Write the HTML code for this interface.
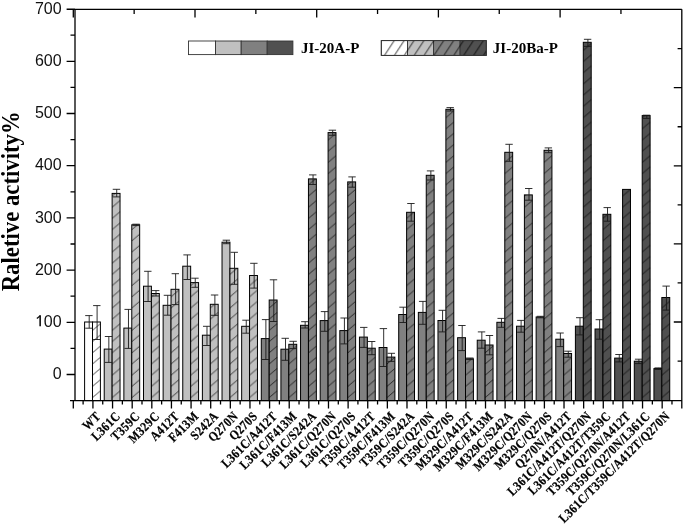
<!DOCTYPE html><html><head><meta charset="utf-8"><style>
html,body{margin:0;padding:0;background:#fff;width:685px;height:526px;overflow:hidden}
svg{display:block;will-change:transform}
.t{font-family:"Liberation Sans",sans-serif;font-size:16px;fill:#111}
.b{font-family:"Liberation Serif",serif;font-weight:bold;fill:#000}
</style></head><body>
<svg width="685" height="526" viewBox="0 0 685 526">
<rect x="84.60" y="322.00" width="7.9" height="78.60" fill="#ffffff" stroke="#000" stroke-width="1"/>
<rect x="92.50" y="322.00" width="7.9" height="78.60" fill="#ffffff"/>
<svg x="92.50" y="322.00" width="7.9" height="78.60" overflow="hidden">
<path d="M0,75.60 L7.9,68.89 M0,64.40 L7.9,57.69 M0,53.20 L7.9,46.49 M0,42.00 L7.9,35.29 M0,30.80 L7.9,24.09 M0,19.60 L7.9,12.89 M0,8.40 L7.9,1.69 M0,-2.80 L7.9,-9.51" stroke="#000" stroke-width="0.7" fill="none"/>
</svg>
<rect x="92.50" y="322.00" width="7.9" height="78.60" fill="none" stroke="#000" stroke-width="1"/>
<path d="M89.20,315.60 V328.20 M85.20,315.60 H92.60 M85.20,328.20 H92.60" stroke="#1a1a1a" stroke-width="0.9" fill="none"/>
<path d="M97.10,305.60 V339.50 M93.10,305.60 H100.50 M93.10,339.50 H100.50" stroke="#1a1a1a" stroke-width="0.9" fill="none"/>
<rect x="104.23" y="349.10" width="7.9" height="51.50" fill="#c0c0c0" stroke="#000" stroke-width="1"/>
<rect x="112.13" y="193.40" width="7.9" height="207.20" fill="#c0c0c0"/>
<svg x="112.13" y="193.40" width="7.9" height="207.20" overflow="hidden">
<path d="M0,204.20 L7.9,197.49 M0,193.00 L7.9,186.29 M0,181.80 L7.9,175.09 M0,170.60 L7.9,163.89 M0,159.40 L7.9,152.69 M0,148.20 L7.9,141.49 M0,137.00 L7.9,130.29 M0,125.80 L7.9,119.09 M0,114.60 L7.9,107.89 M0,103.40 L7.9,96.69 M0,92.20 L7.9,85.49 M0,81.00 L7.9,74.29 M0,69.80 L7.9,63.09 M0,58.60 L7.9,51.89 M0,47.40 L7.9,40.69 M0,36.20 L7.9,29.49 M0,25.00 L7.9,18.29 M0,13.80 L7.9,7.09 M0,2.60 L7.9,-4.11 M0,-8.60 L7.9,-15.31" stroke="#000" stroke-width="0.7" fill="none"/>
</svg>
<rect x="112.13" y="193.40" width="7.9" height="207.20" fill="none" stroke="#000" stroke-width="1"/>
<path d="M108.83,336.50 V362.40 M104.83,336.50 H112.23 M104.83,362.40 H112.23" stroke="#1a1a1a" stroke-width="0.9" fill="none"/>
<path d="M116.73,189.30 V196.90 M112.73,189.30 H120.13 M112.73,196.90 H120.13" stroke="#1a1a1a" stroke-width="0.9" fill="none"/>
<rect x="123.87" y="328.10" width="7.9" height="72.50" fill="#c0c0c0" stroke="#000" stroke-width="1"/>
<rect x="131.77" y="224.80" width="7.9" height="175.80" fill="#c0c0c0"/>
<svg x="131.77" y="224.80" width="7.9" height="175.80" overflow="hidden">
<path d="M0,172.80 L7.9,166.09 M0,161.60 L7.9,154.89 M0,150.40 L7.9,143.69 M0,139.20 L7.9,132.49 M0,128.00 L7.9,121.29 M0,116.80 L7.9,110.09 M0,105.60 L7.9,98.89 M0,94.40 L7.9,87.69 M0,83.20 L7.9,76.49 M0,72.00 L7.9,65.29 M0,60.80 L7.9,54.09 M0,49.60 L7.9,42.89 M0,38.40 L7.9,31.69 M0,27.20 L7.9,20.49 M0,16.00 L7.9,9.29 M0,4.80 L7.9,-1.91 M0,-6.40 L7.9,-13.11" stroke="#000" stroke-width="0.7" fill="none"/>
</svg>
<rect x="131.77" y="224.80" width="7.9" height="175.80" fill="none" stroke="#000" stroke-width="1"/>
<path d="M128.47,309.40 V348.40 M124.47,309.40 H131.87 M124.47,348.40 H131.87" stroke="#1a1a1a" stroke-width="0.9" fill="none"/>
<path d="M136.37,224.20 V225.60 M132.37,224.20 H139.77 M132.37,225.60 H139.77" stroke="#1a1a1a" stroke-width="0.9" fill="none"/>
<rect x="143.50" y="286.20" width="7.9" height="114.40" fill="#c0c0c0" stroke="#000" stroke-width="1"/>
<rect x="151.40" y="293.50" width="7.9" height="107.10" fill="#c0c0c0"/>
<svg x="151.40" y="293.50" width="7.9" height="107.10" overflow="hidden">
<path d="M0,104.10 L7.9,97.39 M0,92.90 L7.9,86.19 M0,81.70 L7.9,74.99 M0,70.50 L7.9,63.79 M0,59.30 L7.9,52.59 M0,48.10 L7.9,41.39 M0,36.90 L7.9,30.19 M0,25.70 L7.9,18.99 M0,14.50 L7.9,7.79 M0,3.30 L7.9,-3.41 M0,-7.90 L7.9,-14.61" stroke="#000" stroke-width="0.7" fill="none"/>
</svg>
<rect x="151.40" y="293.50" width="7.9" height="107.10" fill="none" stroke="#000" stroke-width="1"/>
<path d="M148.10,271.30 V301.50 M144.10,271.30 H151.50 M144.10,301.50 H151.50" stroke="#1a1a1a" stroke-width="0.9" fill="none"/>
<path d="M156.00,290.60 V296.00 M152.00,290.60 H159.40 M152.00,296.00 H159.40" stroke="#1a1a1a" stroke-width="0.9" fill="none"/>
<rect x="163.13" y="305.30" width="7.9" height="95.30" fill="#c0c0c0" stroke="#000" stroke-width="1"/>
<rect x="171.03" y="289.30" width="7.9" height="111.30" fill="#c0c0c0"/>
<svg x="171.03" y="289.30" width="7.9" height="111.30" overflow="hidden">
<path d="M0,108.30 L7.9,101.59 M0,97.10 L7.9,90.39 M0,85.90 L7.9,79.19 M0,74.70 L7.9,67.98 M0,63.50 L7.9,56.78 M0,52.30 L7.9,45.58 M0,41.10 L7.9,34.38 M0,29.90 L7.9,23.18 M0,18.70 L7.9,11.98 M0,7.50 L7.9,0.78 M0,-3.70 L7.9,-10.42" stroke="#000" stroke-width="0.7" fill="none"/>
</svg>
<rect x="171.03" y="289.30" width="7.9" height="111.30" fill="none" stroke="#000" stroke-width="1"/>
<path d="M167.73,295.30 V315.20 M163.73,295.30 H171.13 M163.73,315.20 H171.13" stroke="#1a1a1a" stroke-width="0.9" fill="none"/>
<path d="M175.63,273.70 V304.60 M171.63,273.70 H179.03 M171.63,304.60 H179.03" stroke="#1a1a1a" stroke-width="0.9" fill="none"/>
<rect x="182.76" y="266.20" width="7.9" height="134.40" fill="#c0c0c0" stroke="#000" stroke-width="1"/>
<rect x="190.66" y="282.60" width="7.9" height="118.00" fill="#c0c0c0"/>
<svg x="190.66" y="282.60" width="7.9" height="118.00" overflow="hidden">
<path d="M0,115.00 L7.9,108.28 M0,103.80 L7.9,97.08 M0,92.60 L7.9,85.88 M0,81.40 L7.9,74.68 M0,70.20 L7.9,63.48 M0,59.00 L7.9,52.28 M0,47.80 L7.9,41.08 M0,36.60 L7.9,29.88 M0,25.40 L7.9,18.68 M0,14.20 L7.9,7.48 M0,3.00 L7.9,-3.72 M0,-8.20 L7.9,-14.92" stroke="#000" stroke-width="0.7" fill="none"/>
</svg>
<rect x="190.66" y="282.60" width="7.9" height="118.00" fill="none" stroke="#000" stroke-width="1"/>
<path d="M187.36,254.90 V279.50 M183.36,254.90 H190.76 M183.36,279.50 H190.76" stroke="#1a1a1a" stroke-width="0.9" fill="none"/>
<path d="M195.26,278.20 V287.30 M191.26,278.20 H198.66 M191.26,287.30 H198.66" stroke="#1a1a1a" stroke-width="0.9" fill="none"/>
<rect x="202.39" y="335.20" width="7.9" height="65.40" fill="#c0c0c0" stroke="#000" stroke-width="1"/>
<rect x="210.29" y="304.30" width="7.9" height="96.30" fill="#c0c0c0"/>
<svg x="210.29" y="304.30" width="7.9" height="96.30" overflow="hidden">
<path d="M0,93.30 L7.9,86.59 M0,82.10 L7.9,75.39 M0,70.90 L7.9,64.19 M0,59.70 L7.9,52.98 M0,48.50 L7.9,41.78 M0,37.30 L7.9,30.58 M0,26.10 L7.9,19.38 M0,14.90 L7.9,8.18 M0,3.70 L7.9,-3.02 M0,-7.50 L7.9,-14.21" stroke="#000" stroke-width="0.7" fill="none"/>
</svg>
<rect x="210.29" y="304.30" width="7.9" height="96.30" fill="none" stroke="#000" stroke-width="1"/>
<path d="M206.99,326.30 V345.50 M202.99,326.30 H210.39 M202.99,345.50 H210.39" stroke="#1a1a1a" stroke-width="0.9" fill="none"/>
<path d="M214.89,295.00 V315.30 M210.89,295.00 H218.29 M210.89,315.30 H218.29" stroke="#1a1a1a" stroke-width="0.9" fill="none"/>
<rect x="222.03" y="242.20" width="7.9" height="158.40" fill="#c0c0c0" stroke="#000" stroke-width="1"/>
<rect x="229.93" y="268.30" width="7.9" height="132.30" fill="#c0c0c0"/>
<svg x="229.93" y="268.30" width="7.9" height="132.30" overflow="hidden">
<path d="M0,129.30 L7.9,122.59 M0,118.10 L7.9,111.39 M0,106.90 L7.9,100.19 M0,95.70 L7.9,88.98 M0,84.50 L7.9,77.78 M0,73.30 L7.9,66.58 M0,62.10 L7.9,55.38 M0,50.90 L7.9,44.18 M0,39.70 L7.9,32.98 M0,28.50 L7.9,21.78 M0,17.30 L7.9,10.58 M0,6.10 L7.9,-0.62 M0,-5.10 L7.9,-11.82" stroke="#000" stroke-width="0.7" fill="none"/>
</svg>
<rect x="229.93" y="268.30" width="7.9" height="132.30" fill="none" stroke="#000" stroke-width="1"/>
<path d="M226.63,240.20 V243.70 M222.63,240.20 H230.03 M222.63,243.70 H230.03" stroke="#1a1a1a" stroke-width="0.9" fill="none"/>
<path d="M234.53,252.30 V284.30 M230.53,252.30 H237.93 M230.53,284.30 H237.93" stroke="#1a1a1a" stroke-width="0.9" fill="none"/>
<rect x="241.66" y="326.30" width="7.9" height="74.30" fill="#c0c0c0" stroke="#000" stroke-width="1"/>
<rect x="249.56" y="275.50" width="7.9" height="125.10" fill="#c0c0c0"/>
<svg x="249.56" y="275.50" width="7.9" height="125.10" overflow="hidden">
<path d="M0,122.10 L7.9,115.39 M0,110.90 L7.9,104.19 M0,99.70 L7.9,92.99 M0,88.50 L7.9,81.79 M0,77.30 L7.9,70.59 M0,66.10 L7.9,59.39 M0,54.90 L7.9,48.19 M0,43.70 L7.9,36.98 M0,32.50 L7.9,25.79 M0,21.30 L7.9,14.59 M0,10.10 L7.9,3.39 M0,-1.10 L7.9,-7.81" stroke="#000" stroke-width="0.7" fill="none"/>
</svg>
<rect x="249.56" y="275.50" width="7.9" height="125.10" fill="none" stroke="#000" stroke-width="1"/>
<path d="M246.26,320.20 V333.20 M242.26,320.20 H249.66 M242.26,333.20 H249.66" stroke="#1a1a1a" stroke-width="0.9" fill="none"/>
<path d="M254.16,263.30 V288.10 M250.16,263.30 H257.56 M250.16,288.10 H257.56" stroke="#1a1a1a" stroke-width="0.9" fill="none"/>
<rect x="261.29" y="338.60" width="7.9" height="62.00" fill="#808080" stroke="#000" stroke-width="1"/>
<rect x="269.19" y="300.00" width="7.9" height="100.60" fill="#808080"/>
<svg x="269.19" y="300.00" width="7.9" height="100.60" overflow="hidden">
<path d="M0,97.60 L7.9,90.89 M0,86.40 L7.9,79.69 M0,75.20 L7.9,68.49 M0,64.00 L7.9,57.29 M0,52.80 L7.9,46.09 M0,41.60 L7.9,34.89 M0,30.40 L7.9,23.69 M0,19.20 L7.9,12.49 M0,8.00 L7.9,1.29 M0,-3.20 L7.9,-9.91" stroke="#000" stroke-width="0.7" fill="none"/>
</svg>
<rect x="269.19" y="300.00" width="7.9" height="100.60" fill="none" stroke="#000" stroke-width="1"/>
<path d="M265.89,319.60 V359.50 M261.89,319.60 H269.29 M261.89,359.50 H269.29" stroke="#1a1a1a" stroke-width="0.9" fill="none"/>
<path d="M273.79,279.80 V321.50 M269.79,279.80 H277.19 M269.79,321.50 H277.19" stroke="#1a1a1a" stroke-width="0.9" fill="none"/>
<rect x="280.92" y="349.20" width="7.9" height="51.40" fill="#808080" stroke="#000" stroke-width="1"/>
<rect x="288.82" y="344.30" width="7.9" height="56.30" fill="#808080"/>
<svg x="288.82" y="344.30" width="7.9" height="56.30" overflow="hidden">
<path d="M0,53.30 L7.9,46.59 M0,42.10 L7.9,35.39 M0,30.90 L7.9,24.19 M0,19.70 L7.9,12.99 M0,8.50 L7.9,1.79 M0,-2.70 L7.9,-9.41" stroke="#000" stroke-width="0.7" fill="none"/>
</svg>
<rect x="288.82" y="344.30" width="7.9" height="56.30" fill="none" stroke="#000" stroke-width="1"/>
<path d="M285.52,338.30 V360.30 M281.52,338.30 H288.92 M281.52,360.30 H288.92" stroke="#1a1a1a" stroke-width="0.9" fill="none"/>
<path d="M293.42,341.30 V348.60 M289.42,341.30 H296.82 M289.42,348.60 H296.82" stroke="#1a1a1a" stroke-width="0.9" fill="none"/>
<rect x="300.55" y="325.30" width="7.9" height="75.30" fill="#808080" stroke="#000" stroke-width="1"/>
<rect x="308.45" y="178.90" width="7.9" height="221.70" fill="#808080"/>
<svg x="308.45" y="178.90" width="7.9" height="221.70" overflow="hidden">
<path d="M0,218.70 L7.9,211.99 M0,207.50 L7.9,200.79 M0,196.30 L7.9,189.59 M0,185.10 L7.9,178.39 M0,173.90 L7.9,167.19 M0,162.70 L7.9,155.99 M0,151.50 L7.9,144.79 M0,140.30 L7.9,133.59 M0,129.10 L7.9,122.39 M0,117.90 L7.9,111.19 M0,106.70 L7.9,99.99 M0,95.50 L7.9,88.79 M0,84.30 L7.9,77.59 M0,73.10 L7.9,66.39 M0,61.90 L7.9,55.19 M0,50.70 L7.9,43.99 M0,39.50 L7.9,32.79 M0,28.30 L7.9,21.59 M0,17.10 L7.9,10.39 M0,5.90 L7.9,-0.81 M0,-5.30 L7.9,-12.01" stroke="#000" stroke-width="0.7" fill="none"/>
</svg>
<rect x="308.45" y="178.90" width="7.9" height="221.70" fill="none" stroke="#000" stroke-width="1"/>
<path d="M305.15,321.70 V328.00 M301.15,321.70 H308.55 M301.15,328.00 H308.55" stroke="#1a1a1a" stroke-width="0.9" fill="none"/>
<path d="M313.05,174.90 V184.50 M309.05,174.90 H316.45 M309.05,184.50 H316.45" stroke="#1a1a1a" stroke-width="0.9" fill="none"/>
<rect x="320.19" y="320.60" width="7.9" height="80.00" fill="#808080" stroke="#000" stroke-width="1"/>
<rect x="328.09" y="132.60" width="7.9" height="268.00" fill="#808080"/>
<svg x="328.09" y="132.60" width="7.9" height="268.00" overflow="hidden">
<path d="M0,265.00 L7.9,258.29 M0,253.80 L7.9,247.09 M0,242.60 L7.9,235.89 M0,231.40 L7.9,224.69 M0,220.20 L7.9,213.49 M0,209.00 L7.9,202.29 M0,197.80 L7.9,191.09 M0,186.60 L7.9,179.89 M0,175.40 L7.9,168.69 M0,164.20 L7.9,157.49 M0,153.00 L7.9,146.29 M0,141.80 L7.9,135.09 M0,130.60 L7.9,123.89 M0,119.40 L7.9,112.69 M0,108.20 L7.9,101.49 M0,97.00 L7.9,90.29 M0,85.80 L7.9,79.09 M0,74.60 L7.9,67.89 M0,63.40 L7.9,56.69 M0,52.20 L7.9,45.49 M0,41.00 L7.9,34.29 M0,29.80 L7.9,23.09 M0,18.60 L7.9,11.89 M0,7.40 L7.9,0.69 M0,-3.80 L7.9,-10.51" stroke="#000" stroke-width="0.7" fill="none"/>
</svg>
<rect x="328.09" y="132.60" width="7.9" height="268.00" fill="none" stroke="#000" stroke-width="1"/>
<path d="M324.79,311.60 V331.30 M320.79,311.60 H328.19 M320.79,331.30 H328.19" stroke="#1a1a1a" stroke-width="0.9" fill="none"/>
<path d="M332.69,130.20 V135.30 M328.69,130.20 H336.09 M328.69,135.30 H336.09" stroke="#1a1a1a" stroke-width="0.9" fill="none"/>
<rect x="339.82" y="330.60" width="7.9" height="70.00" fill="#808080" stroke="#000" stroke-width="1"/>
<rect x="347.72" y="181.90" width="7.9" height="218.70" fill="#808080"/>
<svg x="347.72" y="181.90" width="7.9" height="218.70" overflow="hidden">
<path d="M0,215.70 L7.9,208.99 M0,204.50 L7.9,197.79 M0,193.30 L7.9,186.59 M0,182.10 L7.9,175.39 M0,170.90 L7.9,164.19 M0,159.70 L7.9,152.99 M0,148.50 L7.9,141.79 M0,137.30 L7.9,130.59 M0,126.10 L7.9,119.39 M0,114.90 L7.9,108.19 M0,103.70 L7.9,96.99 M0,92.50 L7.9,85.79 M0,81.30 L7.9,74.59 M0,70.10 L7.9,63.39 M0,58.90 L7.9,52.19 M0,47.70 L7.9,40.99 M0,36.50 L7.9,29.79 M0,25.30 L7.9,18.59 M0,14.10 L7.9,7.39 M0,2.90 L7.9,-3.81 M0,-8.30 L7.9,-15.01" stroke="#000" stroke-width="0.7" fill="none"/>
</svg>
<rect x="347.72" y="181.90" width="7.9" height="218.70" fill="none" stroke="#000" stroke-width="1"/>
<path d="M344.42,318.00 V343.90 M340.42,318.00 H347.82 M340.42,343.90 H347.82" stroke="#1a1a1a" stroke-width="0.9" fill="none"/>
<path d="M352.32,176.90 V187.20 M348.32,176.90 H355.72 M348.32,187.20 H355.72" stroke="#1a1a1a" stroke-width="0.9" fill="none"/>
<rect x="359.45" y="337.10" width="7.9" height="63.50" fill="#808080" stroke="#000" stroke-width="1"/>
<rect x="367.35" y="348.20" width="7.9" height="52.40" fill="#808080"/>
<svg x="367.35" y="348.20" width="7.9" height="52.40" overflow="hidden">
<path d="M0,49.40 L7.9,42.69 M0,38.20 L7.9,31.49 M0,27.00 L7.9,20.29 M0,15.80 L7.9,9.09 M0,4.60 L7.9,-2.11 M0,-6.60 L7.9,-13.31" stroke="#000" stroke-width="0.7" fill="none"/>
</svg>
<rect x="367.35" y="348.20" width="7.9" height="52.40" fill="none" stroke="#000" stroke-width="1"/>
<path d="M364.05,327.40 V347.40 M360.05,327.40 H367.45 M360.05,347.40 H367.45" stroke="#1a1a1a" stroke-width="0.9" fill="none"/>
<path d="M371.95,341.50 V354.70 M367.95,341.50 H375.35 M367.95,354.70 H375.35" stroke="#1a1a1a" stroke-width="0.9" fill="none"/>
<rect x="379.08" y="347.50" width="7.9" height="53.10" fill="#808080" stroke="#000" stroke-width="1"/>
<rect x="386.98" y="357.10" width="7.9" height="43.50" fill="#808080"/>
<svg x="386.98" y="357.10" width="7.9" height="43.50" overflow="hidden">
<path d="M0,40.50 L7.9,33.78 M0,29.30 L7.9,22.59 M0,18.10 L7.9,11.39 M0,6.90 L7.9,0.19 M0,-4.30 L7.9,-11.01" stroke="#000" stroke-width="0.7" fill="none"/>
</svg>
<rect x="386.98" y="357.10" width="7.9" height="43.50" fill="none" stroke="#000" stroke-width="1"/>
<path d="M383.68,328.60 V366.50 M379.68,328.60 H387.08 M379.68,366.50 H387.08" stroke="#1a1a1a" stroke-width="0.9" fill="none"/>
<path d="M391.58,353.30 V361.40 M387.58,353.30 H394.98 M387.58,361.40 H394.98" stroke="#1a1a1a" stroke-width="0.9" fill="none"/>
<rect x="398.71" y="314.50" width="7.9" height="86.10" fill="#808080" stroke="#000" stroke-width="1"/>
<rect x="406.61" y="212.30" width="7.9" height="188.30" fill="#808080"/>
<svg x="406.61" y="212.30" width="7.9" height="188.30" overflow="hidden">
<path d="M0,185.30 L7.9,178.59 M0,174.10 L7.9,167.39 M0,162.90 L7.9,156.19 M0,151.70 L7.9,144.99 M0,140.50 L7.9,133.79 M0,129.30 L7.9,122.59 M0,118.10 L7.9,111.39 M0,106.90 L7.9,100.19 M0,95.70 L7.9,88.99 M0,84.50 L7.9,77.79 M0,73.30 L7.9,66.59 M0,62.10 L7.9,55.39 M0,50.90 L7.9,44.19 M0,39.70 L7.9,32.99 M0,28.50 L7.9,21.79 M0,17.30 L7.9,10.59 M0,6.10 L7.9,-0.61 M0,-5.10 L7.9,-11.81" stroke="#000" stroke-width="0.7" fill="none"/>
</svg>
<rect x="406.61" y="212.30" width="7.9" height="188.30" fill="none" stroke="#000" stroke-width="1"/>
<path d="M403.31,307.20 V322.50 M399.31,307.20 H406.71 M399.31,322.50 H406.71" stroke="#1a1a1a" stroke-width="0.9" fill="none"/>
<path d="M411.21,203.50 V221.20 M407.21,203.50 H414.61 M407.21,221.20 H414.61" stroke="#1a1a1a" stroke-width="0.9" fill="none"/>
<rect x="418.35" y="312.40" width="7.9" height="88.20" fill="#808080" stroke="#000" stroke-width="1"/>
<rect x="426.25" y="175.30" width="7.9" height="225.30" fill="#808080"/>
<svg x="426.25" y="175.30" width="7.9" height="225.30" overflow="hidden">
<path d="M0,222.30 L7.9,215.59 M0,211.10 L7.9,204.39 M0,199.90 L7.9,193.19 M0,188.70 L7.9,181.99 M0,177.50 L7.9,170.79 M0,166.30 L7.9,159.59 M0,155.10 L7.9,148.39 M0,143.90 L7.9,137.19 M0,132.70 L7.9,125.99 M0,121.50 L7.9,114.79 M0,110.30 L7.9,103.59 M0,99.10 L7.9,92.39 M0,87.90 L7.9,81.19 M0,76.70 L7.9,69.99 M0,65.50 L7.9,58.79 M0,54.30 L7.9,47.59 M0,43.10 L7.9,36.39 M0,31.90 L7.9,25.19 M0,20.70 L7.9,13.99 M0,9.50 L7.9,2.79 M0,-1.70 L7.9,-8.41" stroke="#000" stroke-width="0.7" fill="none"/>
</svg>
<rect x="426.25" y="175.30" width="7.9" height="225.30" fill="none" stroke="#000" stroke-width="1"/>
<path d="M422.95,301.40 V324.30 M418.95,301.40 H426.35 M418.95,324.30 H426.35" stroke="#1a1a1a" stroke-width="0.9" fill="none"/>
<path d="M430.85,170.90 V180.00 M426.85,170.90 H434.25 M426.85,180.00 H434.25" stroke="#1a1a1a" stroke-width="0.9" fill="none"/>
<rect x="437.98" y="320.50" width="7.9" height="80.10" fill="#808080" stroke="#000" stroke-width="1"/>
<rect x="445.88" y="109.30" width="7.9" height="291.30" fill="#808080"/>
<svg x="445.88" y="109.30" width="7.9" height="291.30" overflow="hidden">
<path d="M0,288.30 L7.9,281.59 M0,277.10 L7.9,270.39 M0,265.90 L7.9,259.19 M0,254.70 L7.9,247.99 M0,243.50 L7.9,236.79 M0,232.30 L7.9,225.59 M0,221.10 L7.9,214.39 M0,209.90 L7.9,203.19 M0,198.70 L7.9,191.99 M0,187.50 L7.9,180.79 M0,176.30 L7.9,169.59 M0,165.10 L7.9,158.39 M0,153.90 L7.9,147.19 M0,142.70 L7.9,135.99 M0,131.50 L7.9,124.79 M0,120.30 L7.9,113.59 M0,109.10 L7.9,102.39 M0,97.90 L7.9,91.19 M0,86.70 L7.9,79.99 M0,75.50 L7.9,68.79 M0,64.30 L7.9,57.59 M0,53.10 L7.9,46.39 M0,41.90 L7.9,35.19 M0,30.70 L7.9,23.99 M0,19.50 L7.9,12.79 M0,8.30 L7.9,1.59 M0,-2.90 L7.9,-9.61" stroke="#000" stroke-width="0.7" fill="none"/>
</svg>
<rect x="445.88" y="109.30" width="7.9" height="291.30" fill="none" stroke="#000" stroke-width="1"/>
<path d="M442.58,310.30 V331.90 M438.58,310.30 H445.98 M438.58,331.90 H445.98" stroke="#1a1a1a" stroke-width="0.9" fill="none"/>
<path d="M450.48,107.60 V111.00 M446.48,107.60 H453.88 M446.48,111.00 H453.88" stroke="#1a1a1a" stroke-width="0.9" fill="none"/>
<rect x="457.61" y="337.70" width="7.9" height="62.90" fill="#808080" stroke="#000" stroke-width="1"/>
<rect x="465.51" y="358.80" width="7.9" height="41.80" fill="#808080"/>
<svg x="465.51" y="358.80" width="7.9" height="41.80" overflow="hidden">
<path d="M0,38.80 L7.9,32.09 M0,27.60 L7.9,20.89 M0,16.40 L7.9,9.69 M0,5.20 L7.9,-1.51 M0,-6.00 L7.9,-12.71" stroke="#000" stroke-width="0.7" fill="none"/>
</svg>
<rect x="465.51" y="358.80" width="7.9" height="41.80" fill="none" stroke="#000" stroke-width="1"/>
<path d="M462.21,325.50 V350.60 M458.21,325.50 H465.61 M458.21,350.60 H465.61" stroke="#1a1a1a" stroke-width="0.9" fill="none"/>
<path d="M470.11,358.00 V359.60 M466.11,358.00 H473.51 M466.11,359.60 H473.51" stroke="#1a1a1a" stroke-width="0.9" fill="none"/>
<rect x="477.24" y="340.20" width="7.9" height="60.40" fill="#808080" stroke="#000" stroke-width="1"/>
<rect x="485.14" y="345.00" width="7.9" height="55.60" fill="#808080"/>
<svg x="485.14" y="345.00" width="7.9" height="55.60" overflow="hidden">
<path d="M0,52.60 L7.9,45.89 M0,41.40 L7.9,34.69 M0,30.20 L7.9,23.49 M0,19.00 L7.9,12.29 M0,7.80 L7.9,1.09 M0,-3.40 L7.9,-10.11" stroke="#000" stroke-width="0.7" fill="none"/>
</svg>
<rect x="485.14" y="345.00" width="7.9" height="55.60" fill="none" stroke="#000" stroke-width="1"/>
<path d="M481.84,331.90 V348.20 M477.84,331.90 H485.24 M477.84,348.20 H485.24" stroke="#1a1a1a" stroke-width="0.9" fill="none"/>
<path d="M489.74,335.50 V354.80 M485.74,335.50 H493.14 M485.74,354.80 H493.14" stroke="#1a1a1a" stroke-width="0.9" fill="none"/>
<rect x="496.87" y="322.30" width="7.9" height="78.30" fill="#808080" stroke="#000" stroke-width="1"/>
<rect x="504.77" y="152.30" width="7.9" height="248.30" fill="#808080"/>
<svg x="504.77" y="152.30" width="7.9" height="248.30" overflow="hidden">
<path d="M0,245.30 L7.9,238.59 M0,234.10 L7.9,227.39 M0,222.90 L7.9,216.19 M0,211.70 L7.9,204.99 M0,200.50 L7.9,193.79 M0,189.30 L7.9,182.59 M0,178.10 L7.9,171.39 M0,166.90 L7.9,160.19 M0,155.70 L7.9,148.99 M0,144.50 L7.9,137.79 M0,133.30 L7.9,126.59 M0,122.10 L7.9,115.39 M0,110.90 L7.9,104.19 M0,99.70 L7.9,92.99 M0,88.50 L7.9,81.79 M0,77.30 L7.9,70.59 M0,66.10 L7.9,59.39 M0,54.90 L7.9,48.19 M0,43.70 L7.9,36.99 M0,32.50 L7.9,25.79 M0,21.30 L7.9,14.59 M0,10.10 L7.9,3.39 M0,-1.10 L7.9,-7.81" stroke="#000" stroke-width="0.7" fill="none"/>
</svg>
<rect x="504.77" y="152.30" width="7.9" height="248.30" fill="none" stroke="#000" stroke-width="1"/>
<path d="M501.47,318.40 V327.30 M497.47,318.40 H504.87 M497.47,327.30 H504.87" stroke="#1a1a1a" stroke-width="0.9" fill="none"/>
<path d="M509.37,144.30 V161.30 M505.37,144.30 H512.77 M505.37,161.30 H512.77" stroke="#1a1a1a" stroke-width="0.9" fill="none"/>
<rect x="516.51" y="326.20" width="7.9" height="74.40" fill="#808080" stroke="#000" stroke-width="1"/>
<rect x="524.41" y="194.90" width="7.9" height="205.70" fill="#808080"/>
<svg x="524.41" y="194.90" width="7.9" height="205.70" overflow="hidden">
<path d="M0,202.70 L7.9,195.99 M0,191.50 L7.9,184.79 M0,180.30 L7.9,173.59 M0,169.10 L7.9,162.39 M0,157.90 L7.9,151.19 M0,146.70 L7.9,139.99 M0,135.50 L7.9,128.79 M0,124.30 L7.9,117.59 M0,113.10 L7.9,106.39 M0,101.90 L7.9,95.19 M0,90.70 L7.9,83.99 M0,79.50 L7.9,72.79 M0,68.30 L7.9,61.59 M0,57.10 L7.9,50.39 M0,45.90 L7.9,39.19 M0,34.70 L7.9,27.99 M0,23.50 L7.9,16.79 M0,12.30 L7.9,5.59 M0,1.10 L7.9,-5.61" stroke="#000" stroke-width="0.7" fill="none"/>
</svg>
<rect x="524.41" y="194.90" width="7.9" height="205.70" fill="none" stroke="#000" stroke-width="1"/>
<path d="M521.11,320.40 V332.20 M517.11,320.40 H524.51 M517.11,332.20 H524.51" stroke="#1a1a1a" stroke-width="0.9" fill="none"/>
<path d="M529.01,188.50 V200.20 M525.01,188.50 H532.41 M525.01,200.20 H532.41" stroke="#1a1a1a" stroke-width="0.9" fill="none"/>
<rect x="536.14" y="317.00" width="7.9" height="83.60" fill="#808080" stroke="#000" stroke-width="1"/>
<rect x="544.04" y="150.30" width="7.9" height="250.30" fill="#808080"/>
<svg x="544.04" y="150.30" width="7.9" height="250.30" overflow="hidden">
<path d="M0,247.30 L7.9,240.59 M0,236.10 L7.9,229.39 M0,224.90 L7.9,218.19 M0,213.70 L7.9,206.99 M0,202.50 L7.9,195.79 M0,191.30 L7.9,184.59 M0,180.10 L7.9,173.39 M0,168.90 L7.9,162.19 M0,157.70 L7.9,150.99 M0,146.50 L7.9,139.79 M0,135.30 L7.9,128.59 M0,124.10 L7.9,117.39 M0,112.90 L7.9,106.19 M0,101.70 L7.9,94.99 M0,90.50 L7.9,83.79 M0,79.30 L7.9,72.59 M0,68.10 L7.9,61.39 M0,56.90 L7.9,50.19 M0,45.70 L7.9,38.99 M0,34.50 L7.9,27.79 M0,23.30 L7.9,16.59 M0,12.10 L7.9,5.39 M0,0.90 L7.9,-5.81" stroke="#000" stroke-width="0.7" fill="none"/>
</svg>
<rect x="544.04" y="150.30" width="7.9" height="250.30" fill="none" stroke="#000" stroke-width="1"/>
<path d="M540.74,316.30 V317.80 M536.74,316.30 H544.14 M536.74,317.80 H544.14" stroke="#1a1a1a" stroke-width="0.9" fill="none"/>
<path d="M548.64,147.90 V152.70 M544.64,147.90 H552.04 M544.64,152.70 H552.04" stroke="#1a1a1a" stroke-width="0.9" fill="none"/>
<rect x="555.77" y="339.20" width="7.9" height="61.40" fill="#808080" stroke="#000" stroke-width="1"/>
<rect x="563.67" y="353.50" width="7.9" height="47.10" fill="#808080"/>
<svg x="563.67" y="353.50" width="7.9" height="47.10" overflow="hidden">
<path d="M0,44.10 L7.9,37.39 M0,32.90 L7.9,26.19 M0,21.70 L7.9,14.99 M0,10.50 L7.9,3.79 M0,-0.70 L7.9,-7.41" stroke="#000" stroke-width="0.7" fill="none"/>
</svg>
<rect x="563.67" y="353.50" width="7.9" height="47.10" fill="none" stroke="#000" stroke-width="1"/>
<path d="M560.37,333.00 V346.60 M556.37,333.00 H563.77 M556.37,346.60 H563.77" stroke="#1a1a1a" stroke-width="0.9" fill="none"/>
<path d="M568.27,351.20 V357.20 M564.27,351.20 H571.67 M564.27,357.20 H571.67" stroke="#1a1a1a" stroke-width="0.9" fill="none"/>
<rect x="575.40" y="326.20" width="7.9" height="74.40" fill="#505050" stroke="#000" stroke-width="1"/>
<rect x="583.30" y="42.30" width="7.9" height="358.30" fill="#505050"/>
<svg x="583.30" y="42.30" width="7.9" height="358.30" overflow="hidden">
<path d="M0,355.30 L7.9,348.59 M0,344.10 L7.9,337.39 M0,332.90 L7.9,326.19 M0,321.70 L7.9,314.99 M0,310.50 L7.9,303.79 M0,299.30 L7.9,292.59 M0,288.10 L7.9,281.39 M0,276.90 L7.9,270.19 M0,265.70 L7.9,258.99 M0,254.50 L7.9,247.79 M0,243.30 L7.9,236.59 M0,232.10 L7.9,225.39 M0,220.90 L7.9,214.19 M0,209.70 L7.9,202.99 M0,198.50 L7.9,191.79 M0,187.30 L7.9,180.59 M0,176.10 L7.9,169.39 M0,164.90 L7.9,158.19 M0,153.70 L7.9,146.99 M0,142.50 L7.9,135.79 M0,131.30 L7.9,124.59 M0,120.10 L7.9,113.39 M0,108.90 L7.9,102.19 M0,97.70 L7.9,90.99 M0,86.50 L7.9,79.79 M0,75.30 L7.9,68.59 M0,64.10 L7.9,57.39 M0,52.90 L7.9,46.19 M0,41.70 L7.9,34.99 M0,30.50 L7.9,23.79 M0,19.30 L7.9,12.59 M0,8.10 L7.9,1.39 M0,-3.10 L7.9,-9.81" stroke="#000" stroke-width="0.7" fill="none"/>
</svg>
<rect x="583.30" y="42.30" width="7.9" height="358.30" fill="none" stroke="#000" stroke-width="1"/>
<path d="M580.00,317.70 V334.90 M576.00,317.70 H583.40 M576.00,334.90 H583.40" stroke="#1a1a1a" stroke-width="0.9" fill="none"/>
<path d="M587.90,39.30 V46.40 M583.90,39.30 H591.30 M583.90,46.40 H591.30" stroke="#1a1a1a" stroke-width="0.9" fill="none"/>
<rect x="595.03" y="329.00" width="7.9" height="71.60" fill="#505050" stroke="#000" stroke-width="1"/>
<rect x="602.93" y="214.30" width="7.9" height="186.30" fill="#505050"/>
<svg x="602.93" y="214.30" width="7.9" height="186.30" overflow="hidden">
<path d="M0,183.30 L7.9,176.59 M0,172.10 L7.9,165.39 M0,160.90 L7.9,154.19 M0,149.70 L7.9,142.99 M0,138.50 L7.9,131.79 M0,127.30 L7.9,120.59 M0,116.10 L7.9,109.39 M0,104.90 L7.9,98.19 M0,93.70 L7.9,86.99 M0,82.50 L7.9,75.79 M0,71.30 L7.9,64.59 M0,60.10 L7.9,53.39 M0,48.90 L7.9,42.19 M0,37.70 L7.9,30.99 M0,26.50 L7.9,19.79 M0,15.30 L7.9,8.59 M0,4.10 L7.9,-2.61 M0,-7.10 L7.9,-13.81" stroke="#000" stroke-width="0.7" fill="none"/>
</svg>
<rect x="602.93" y="214.30" width="7.9" height="186.30" fill="none" stroke="#000" stroke-width="1"/>
<path d="M599.63,319.70 V339.20 M595.63,319.70 H603.03 M595.63,339.20 H603.03" stroke="#1a1a1a" stroke-width="0.9" fill="none"/>
<path d="M607.53,207.60 V221.20 M603.53,207.60 H610.93 M603.53,221.20 H610.93" stroke="#1a1a1a" stroke-width="0.9" fill="none"/>
<rect x="614.67" y="358.10" width="7.9" height="42.50" fill="#505050" stroke="#000" stroke-width="1"/>
<rect x="622.57" y="189.40" width="7.9" height="211.20" fill="#505050"/>
<svg x="622.57" y="189.40" width="7.9" height="211.20" overflow="hidden">
<path d="M0,208.20 L7.9,201.49 M0,197.00 L7.9,190.29 M0,185.80 L7.9,179.09 M0,174.60 L7.9,167.89 M0,163.40 L7.9,156.69 M0,152.20 L7.9,145.49 M0,141.00 L7.9,134.29 M0,129.80 L7.9,123.09 M0,118.60 L7.9,111.89 M0,107.40 L7.9,100.69 M0,96.20 L7.9,89.49 M0,85.00 L7.9,78.29 M0,73.80 L7.9,67.09 M0,62.60 L7.9,55.89 M0,51.40 L7.9,44.69 M0,40.20 L7.9,33.49 M0,29.00 L7.9,22.29 M0,17.80 L7.9,11.09 M0,6.60 L7.9,-0.11 M0,-4.60 L7.9,-11.31" stroke="#000" stroke-width="0.7" fill="none"/>
</svg>
<rect x="622.57" y="189.40" width="7.9" height="211.20" fill="none" stroke="#000" stroke-width="1"/>
<path d="M619.27,354.50 V361.90 M615.27,354.50 H622.67 M615.27,361.90 H622.67" stroke="#1a1a1a" stroke-width="0.9" fill="none"/>
<rect x="634.30" y="361.20" width="7.9" height="39.40" fill="#505050" stroke="#000" stroke-width="1"/>
<rect x="642.20" y="115.60" width="7.9" height="285.00" fill="#505050"/>
<svg x="642.20" y="115.60" width="7.9" height="285.00" overflow="hidden">
<path d="M0,282.00 L7.9,275.29 M0,270.80 L7.9,264.09 M0,259.60 L7.9,252.89 M0,248.40 L7.9,241.69 M0,237.20 L7.9,230.49 M0,226.00 L7.9,219.29 M0,214.80 L7.9,208.09 M0,203.60 L7.9,196.89 M0,192.40 L7.9,185.69 M0,181.20 L7.9,174.49 M0,170.00 L7.9,163.29 M0,158.80 L7.9,152.09 M0,147.60 L7.9,140.89 M0,136.40 L7.9,129.69 M0,125.20 L7.9,118.49 M0,114.00 L7.9,107.29 M0,102.80 L7.9,96.09 M0,91.60 L7.9,84.89 M0,80.40 L7.9,73.69 M0,69.20 L7.9,62.49 M0,58.00 L7.9,51.29 M0,46.80 L7.9,40.09 M0,35.60 L7.9,28.89 M0,24.40 L7.9,17.69 M0,13.20 L7.9,6.49 M0,2.00 L7.9,-4.71" stroke="#000" stroke-width="0.7" fill="none"/>
</svg>
<rect x="642.20" y="115.60" width="7.9" height="285.00" fill="none" stroke="#000" stroke-width="1"/>
<path d="M638.90,359.20 V363.60 M634.90,359.20 H642.30 M634.90,363.60 H642.30" stroke="#1a1a1a" stroke-width="0.9" fill="none"/>
<path d="M646.80,115.20 V118.40 M642.80,115.20 H650.20 M642.80,118.40 H650.20" stroke="#1a1a1a" stroke-width="0.9" fill="none"/>
<rect x="653.93" y="368.60" width="7.9" height="32.00" fill="#505050" stroke="#000" stroke-width="1"/>
<rect x="661.83" y="297.50" width="7.9" height="103.10" fill="#505050"/>
<svg x="661.83" y="297.50" width="7.9" height="103.10" overflow="hidden">
<path d="M0,100.10 L7.9,93.39 M0,88.90 L7.9,82.19 M0,77.70 L7.9,70.99 M0,66.50 L7.9,59.79 M0,55.30 L7.9,48.59 M0,44.10 L7.9,37.39 M0,32.90 L7.9,26.19 M0,21.70 L7.9,14.99 M0,10.50 L7.9,3.79 M0,-0.70 L7.9,-7.41" stroke="#000" stroke-width="0.7" fill="none"/>
</svg>
<rect x="661.83" y="297.50" width="7.9" height="103.10" fill="none" stroke="#000" stroke-width="1"/>
<path d="M658.53,367.90 V369.40 M654.53,367.90 H661.93 M654.53,369.40 H661.93" stroke="#1a1a1a" stroke-width="0.9" fill="none"/>
<path d="M666.43,286.10 V310.10 M662.43,286.10 H669.83 M662.43,310.10 H669.83" stroke="#1a1a1a" stroke-width="0.9" fill="none"/>
<path d="M75.0,9.3 V400.6 M66.6,9.3 H681.8 M70,400.6 H681.8 M681.8,9.3 V408.4 M66.6,374.50 H75.0 M66.6,322.30 H75.0 M66.6,270.10 H75.0 M66.6,217.90 H75.0 M66.6,165.70 H75.0 M66.6,113.50 H75.0 M66.6,61.30 H75.0 M66.6,9.10 H75.0 M70.5,400.60 H75.0 M70.5,348.40 H75.0 M70.5,296.20 H75.0 M70.5,244.00 H75.0 M70.5,191.80 H75.0 M70.5,139.60 H75.0 M70.5,87.40 H75.0 M70.5,35.20 H75.0 M677.60,48.65 H681.8 M673.80,87.70 H681.8 M677.60,126.75 H681.8 M673.80,165.80 H681.8 M677.60,204.85 H681.8 M673.80,243.90 H681.8 M677.60,282.95 H681.8 M673.80,322.00 H681.8 M677.60,361.05 H681.8 M73.30,9.3 V17.50 M134.15,9.3 V13.90 M195.00,9.3 V17.50 M255.85,9.3 V13.90 M316.70,9.3 V17.50 M377.55,9.3 V13.90 M438.40,9.3 V17.50 M499.25,9.3 V13.90 M560.10,9.3 V17.50 M620.95,9.3 V13.90 M681.80,9.3 V17.50 M73.30,400.6 V408.4 M83.11,400.6 V404.6 M92.93,400.6 V408.4 M102.74,400.6 V404.6 M112.56,400.6 V408.4 M122.37,400.6 V404.6 M132.19,400.6 V408.4 M142.00,400.6 V404.6 M151.82,400.6 V408.4 M161.63,400.6 V404.6 M171.44,400.6 V408.4 M181.26,400.6 V404.6 M191.07,400.6 V408.4 M200.89,400.6 V404.6 M210.70,400.6 V408.4 M220.52,400.6 V404.6 M230.33,400.6 V408.4 M240.15,400.6 V404.6 M249.96,400.6 V408.4 M259.78,400.6 V404.6 M269.59,400.6 V408.4 M279.40,400.6 V404.6 M289.22,400.6 V408.4 M299.03,400.6 V404.6 M308.85,400.6 V408.4 M318.66,400.6 V404.6 M328.48,400.6 V408.4 M338.29,400.6 V404.6 M348.11,400.6 V408.4 M357.92,400.6 V404.6 M367.74,400.6 V408.4 M377.55,400.6 V404.6 M387.36,400.6 V408.4 M397.18,400.6 V404.6 M406.99,400.6 V408.4 M416.81,400.6 V404.6 M426.62,400.6 V408.4 M436.44,400.6 V404.6 M446.25,400.6 V408.4 M456.07,400.6 V404.6 M465.88,400.6 V408.4 M475.69,400.6 V404.6 M485.51,400.6 V408.4 M495.32,400.6 V404.6 M505.14,400.6 V408.4 M514.95,400.6 V404.6 M524.77,400.6 V408.4 M534.58,400.6 V404.6 M544.40,400.6 V408.4 M554.21,400.6 V404.6 M564.02,400.6 V408.4 M573.84,400.6 V404.6 M583.65,400.6 V408.4 M593.47,400.6 V404.6 M603.28,400.6 V408.4 M613.10,400.6 V404.6 M622.91,400.6 V408.4 M632.73,400.6 V404.6 M642.54,400.6 V408.4 M652.36,400.6 V404.6 M662.17,400.6 V408.4 M671.98,400.6 V404.6 M681.80,400.6 V408.4" stroke="#000" stroke-width="1.3" fill="none"/>
<text class="t" x="61.6" y="379.10" text-anchor="end">0</text>
<text class="t" x="61.6" y="326.90" text-anchor="end">00</text>
<path d="M39.35,326.20 V315.30 H40.95 V326.20 Z" fill="#111"/>
<path d="M40.3,315.80 L36.9,318.50" stroke="#111" stroke-width="1.4" fill="none"/>
<text class="t" x="61.6" y="274.70" text-anchor="end">200</text>
<text class="t" x="61.6" y="222.50" text-anchor="end">300</text>
<text class="t" x="61.6" y="170.30" text-anchor="end">400</text>
<text class="t" x="61.6" y="118.10" text-anchor="end">500</text>
<text class="t" x="61.6" y="65.90" text-anchor="end">600</text>
<text class="t" x="61.6" y="13.70" text-anchor="end">700</text>
<text class="b" font-size="25.5" transform="translate(18.8,291.3) rotate(-90) scale(0.892,1)" x="0" y="0">Raletive activity%</text>
<text class="b" stroke="#000" stroke-width="0.25" font-size="13.2" letter-spacing="0.45" text-anchor="end" transform="translate(101.33,417.00) rotate(-45) scale(0.86,1)">WT</text>
<text class="b" stroke="#000" stroke-width="0.25" font-size="13.2" letter-spacing="0.45" text-anchor="end" transform="translate(120.96,417.00) rotate(-45) scale(0.86,1)">L361C</text>
<text class="b" stroke="#000" stroke-width="0.25" font-size="13.2" letter-spacing="0.45" text-anchor="end" transform="translate(140.59,417.00) rotate(-45) scale(0.86,1)">T359C</text>
<text class="b" stroke="#000" stroke-width="0.25" font-size="13.2" letter-spacing="0.45" text-anchor="end" transform="translate(160.22,417.00) rotate(-45) scale(0.86,1)">M329C</text>
<text class="b" stroke="#000" stroke-width="0.25" font-size="13.2" letter-spacing="0.45" text-anchor="end" transform="translate(179.84,417.00) rotate(-45) scale(0.86,1)">A412T</text>
<text class="b" stroke="#000" stroke-width="0.25" font-size="13.2" letter-spacing="0.45" text-anchor="end" transform="translate(199.47,417.00) rotate(-45) scale(0.86,1)">F413M</text>
<text class="b" stroke="#000" stroke-width="0.25" font-size="13.2" letter-spacing="0.45" text-anchor="end" transform="translate(219.10,417.00) rotate(-45) scale(0.86,1)">S242A</text>
<text class="b" stroke="#000" stroke-width="0.25" font-size="13.2" letter-spacing="0.45" text-anchor="end" transform="translate(238.73,417.00) rotate(-45) scale(0.86,1)">Q270N</text>
<text class="b" stroke="#000" stroke-width="0.25" font-size="13.2" letter-spacing="0.45" text-anchor="end" transform="translate(258.36,417.00) rotate(-45) scale(0.86,1)">Q270S</text>
<text class="b" stroke="#000" stroke-width="0.25" font-size="13.2" letter-spacing="0.45" text-anchor="end" transform="translate(277.99,417.00) rotate(-45) scale(0.86,1)">L361C/A412T</text>
<text class="b" stroke="#000" stroke-width="0.25" font-size="13.2" letter-spacing="0.45" text-anchor="end" transform="translate(297.62,417.00) rotate(-45) scale(0.86,1)">L361C/F413M</text>
<text class="b" stroke="#000" stroke-width="0.25" font-size="13.2" letter-spacing="0.45" text-anchor="end" transform="translate(317.25,417.00) rotate(-45) scale(0.86,1)">L361C/S242A</text>
<text class="b" stroke="#000" stroke-width="0.25" font-size="13.2" letter-spacing="0.45" text-anchor="end" transform="translate(336.88,417.00) rotate(-45) scale(0.86,1)">L361C/Q270N</text>
<text class="b" stroke="#000" stroke-width="0.25" font-size="13.2" letter-spacing="0.45" text-anchor="end" transform="translate(356.51,417.00) rotate(-45) scale(0.86,1)">L361C/Q270S</text>
<text class="b" stroke="#000" stroke-width="0.25" font-size="13.2" letter-spacing="0.45" text-anchor="end" transform="translate(376.13,417.00) rotate(-45) scale(0.86,1)">T359C/A412T</text>
<text class="b" stroke="#000" stroke-width="0.25" font-size="13.2" letter-spacing="0.45" text-anchor="end" transform="translate(395.76,417.00) rotate(-45) scale(0.86,1)">T359C/F413M</text>
<text class="b" stroke="#000" stroke-width="0.25" font-size="13.2" letter-spacing="0.45" text-anchor="end" transform="translate(415.39,417.00) rotate(-45) scale(0.86,1)">T359C/S242A</text>
<text class="b" stroke="#000" stroke-width="0.25" font-size="13.2" letter-spacing="0.45" text-anchor="end" transform="translate(435.02,417.00) rotate(-45) scale(0.86,1)">T359C/Q270N</text>
<text class="b" stroke="#000" stroke-width="0.25" font-size="13.2" letter-spacing="0.45" text-anchor="end" transform="translate(454.65,417.00) rotate(-45) scale(0.86,1)">T359C/Q270S</text>
<text class="b" stroke="#000" stroke-width="0.25" font-size="13.2" letter-spacing="0.45" text-anchor="end" transform="translate(474.28,417.00) rotate(-45) scale(0.86,1)">M329C/A412T</text>
<text class="b" stroke="#000" stroke-width="0.25" font-size="13.2" letter-spacing="0.45" text-anchor="end" transform="translate(493.91,417.00) rotate(-45) scale(0.86,1)">M329C/F413M</text>
<text class="b" stroke="#000" stroke-width="0.25" font-size="13.2" letter-spacing="0.45" text-anchor="end" transform="translate(513.54,417.00) rotate(-45) scale(0.86,1)">M329C/S242A</text>
<text class="b" stroke="#000" stroke-width="0.25" font-size="13.2" letter-spacing="0.45" text-anchor="end" transform="translate(533.17,417.00) rotate(-45) scale(0.86,1)">M329C/Q270N</text>
<text class="b" stroke="#000" stroke-width="0.25" font-size="13.2" letter-spacing="0.45" text-anchor="end" transform="translate(552.80,417.00) rotate(-45) scale(0.86,1)">M329C/Q270S</text>
<text class="b" stroke="#000" stroke-width="0.25" font-size="13.2" letter-spacing="0.45" text-anchor="end" transform="translate(572.42,417.00) rotate(-45) scale(0.86,1)">Q270N/A412T</text>
<text class="b" stroke="#000" stroke-width="0.25" font-size="13.2" letter-spacing="0.45" text-anchor="end" transform="translate(592.05,417.00) rotate(-45) scale(0.86,1)">L361C/A412T/Q270N</text>
<text class="b" stroke="#000" stroke-width="0.25" font-size="13.2" letter-spacing="0.45" text-anchor="end" transform="translate(611.68,417.00) rotate(-45) scale(0.86,1)">L361C/A412T/T359C</text>
<text class="b" stroke="#000" stroke-width="0.25" font-size="13.2" letter-spacing="0.45" text-anchor="end" transform="translate(631.31,417.00) rotate(-45) scale(0.86,1)">T359C/Q270N/A412T</text>
<text class="b" stroke="#000" stroke-width="0.25" font-size="13.2" letter-spacing="0.45" text-anchor="end" transform="translate(650.94,417.00) rotate(-45) scale(0.86,1)">T359C/Q270N/L361C</text>
<text class="b" stroke="#000" stroke-width="0.25" font-size="13.2" letter-spacing="0.45" text-anchor="end" transform="translate(670.57,417.00) rotate(-45) scale(0.86,1)">L361C/T359C/A412T/Q270N</text>
<g stroke="#333" stroke-width="0.9">
<rect x="188.5" y="41" width="27.0" height="13.6" fill="#ffffff"/>
<rect x="215.5" y="41" width="25.7" height="13.6" fill="#c0c0c0"/>
<rect x="241.2" y="41" width="26.0" height="13.6" fill="#808080"/>
<rect x="267.2" y="41" width="25.7" height="13.6" fill="#505050"/>
</g>
<text class="b" font-size="15" x="301" y="52.7">JI-20A-P</text>
<g>
<rect x="381.3" y="40.6" width="26.2" height="14.8" fill="#ffffff" stroke="#333" stroke-width="0.9"/>
<rect x="407.5" y="40.6" width="26.1" height="14.8" fill="#c0c0c0" stroke="#333" stroke-width="0.9"/>
<rect x="433.6" y="40.6" width="26.5" height="14.8" fill="#808080" stroke="#333" stroke-width="0.9"/>
<rect x="460.1" y="40.6" width="26.2" height="14.8" fill="#505050" stroke="#333" stroke-width="0.9"/>
<svg x="381.3" y="40.6" width="105" height="14.8" overflow="hidden">
<path d="M3.20,14.8 L12.90,0 M13.10,14.8 L22.80,0 M23.00,14.8 L32.70,0 M32.90,14.8 L42.60,0 M42.80,14.8 L52.50,0 M52.70,14.8 L62.40,0 M62.60,14.8 L72.30,0 M72.50,14.8 L82.20,0 M82.40,14.8 L92.10,0 M92.30,14.8 L102.00,0 M102.20,14.8 L111.90,0" stroke="#000" stroke-width="0.85" fill="none"/>
</svg>
<rect x="381.3" y="40.6" width="105" height="14.8" fill="none" stroke="#333" stroke-width="0.9"/>
</g>
<text class="b" font-size="15" x="492.8" y="52.7">JI-20Ba-P</text>
</svg></body></html>
